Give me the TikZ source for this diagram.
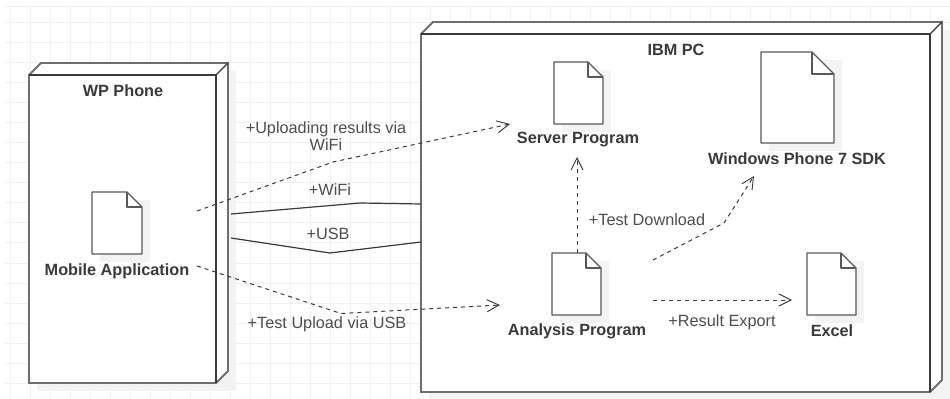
\documentclass[tikz,border=0pt]{standalone}
\usepackage{fontspec}
\setmainfont{Liberation Sans}
\usetikzlibrary{arrows.meta}
\definecolor{gridc}{HTML}{F0F0F0}
\definecolor{shadowc}{HTML}{F3F3F3}
\definecolor{ink}{HTML}{3A3A3A}
\definecolor{edgegrey}{HTML}{6E6E6E}
\tikzset{
  x=0.75pt,y=-0.75pt,
  gridline/.style={gridc,line width=0.75pt},
  docoutline/.style={draw=ink!85,line width=0.95pt,line join=round,fill=white},
  docshadow/.style={fill=shadowc,draw=none},
  boxfront/.style={fill=white,draw=none},
  boxedge/.style={draw=edgegrey,line width=1.35pt,line join=miter},
  boxdark/.style={draw=ink,line width=1.35pt},
  titletext/.style={font=\fontsize{12.2pt}{14pt}\selectfont\bfseries,text=ink,inner sep=0pt,anchor=center},
  linktext/.style={font=\fontsize{12.2pt}{12.2pt}\selectfont,text=ink!90,inner sep=0pt,anchor=center,align=center},
  solidlink/.style={draw=ink,line width=0.9pt,line join=round},
  deplink/.style={draw=ink,line width=0.75pt,dash pattern=on 3pt off 3pt,line join=round,
    -{Straight Barb[length=9pt,width=9pt,line width=0.7pt]}},
}
% #1 name, #2 left, #3 top, #4 right, #5 bottom, #6 fold
\newcommand{\docicon}[6]{%
  \fill[docshadow] (#2+8,#3+8) rectangle (#4+8,#5+8);
  \draw[docoutline] (#2,#3) -- (#4-#6,#3) -- (#4,#3+#6) -- (#4,#5) -- (#2,#5) -- cycle;
  \draw[docoutline,fill=none] (#4-#6,#3) -- (#4-#6,#3+#6) -- (#4,#3+#6);
  \coordinate (#1) at ({(#2+#4)/2},{(#3+#5)/2});
}
% #1 name, #2 left, #3 top, #4 right, #5 bottom
\newcommand{\boxnode}[5]{%
  \fill[shadowc] (#2+8,#3-4) rectangle (#4+20,#5+8);
  \fill[boxfront] (#2,#3) -- (#2+12,#3-12) -- (#4+12,#3-12) -- (#4+12,#5-12) -- (#4,#5) -- (#2,#5) -- cycle;
  \draw[boxedge] (#2,#3) -- (#2+12,#3-12) -- (#4+12,#3-12) -- (#4+12,#5-12) -- (#4,#5) -- (#2,#5) -- cycle;
  \draw[boxdark] (#2,#3) -- (#4,#3) -- (#4,#5);
  \draw[boxdark,line width=0.9pt] (#4,#3) -- (#4+12,#3-12);
  \coordinate (#1) at ({(#2+#4)/2},{(#3+#5)/2});
}
\begin{document}
\begin{tikzpicture}
\useasboundingbox (0,0) rectangle (950,399);
\fill[white] (0,0) rectangle (950,399);
% page grid
\foreach \gx in {10,30,...,950} \draw[gridline] (\gx,7) -- (\gx,399);
\foreach \gy in {7,23,43,...,399} \draw[gridline] (5,\gy) -- (950,\gy);

\boxnode{phone}{29}{75}{216}{383}
\boxnode{pc}{421}{34}{930}{392}

\node[titletext] (phonetitle) at (123,91) {WP Phone};
\node[titletext] (pctitle) at (676,50) {IBM PC};

\docicon{mobile}{92}{192}{142}{254}{15}
\docicon{server}{554}{62}{603}{124}{15}
\docicon{sdk}{761}{52}{834}{143}{22}
\docicon{analysis}{552}{253}{601}{315}{15}
\docicon{excel}{807}{253}{856}{315}{15}

\node[titletext] (mobilelabel) at (117,271) {Mobile Application};
\node[titletext] (serverlabel) at (578,140) {Server Program};
\node[titletext] (sdklabel) at (797,159) {Windows Phone 7 SDK};
\node[titletext] (analysislabel) at (577,331) {Analysis Program};
\node[titletext] (excellabel) at (832,331) {Excel};

% connector ends
\coordinate (upA) at (197,211);
\coordinate (upB) at (333,162);
\coordinate (upC) at (510,124);
\coordinate (wifiA) at (231,214);
\coordinate (wifiB) at (360,203);
\coordinate (wifiC) at (421,204);
\coordinate (usbA) at (231,238);
\coordinate (usbB) at (330,253);
\coordinate (usbC) at (421,242);
\coordinate (tuA) at (197,266);
\coordinate (tuB) at (341,313.5);
\coordinate (tuC) at (500,305);
\coordinate (tdA) at (577,253);
\coordinate (tdC) at (577,157);
\coordinate (sdA) at (653,260);
\coordinate (sdB) at (724,223);
\coordinate (sdC) at (754,176);
\coordinate (reA) at (653,300);
\coordinate (reC) at (792,300);

\draw[solidlink] (wifiA) -- (wifiB) -- (wifiC);
\draw[solidlink] (usbA) -- (usbB) -- (usbC);
\draw[deplink] (upA) -- (upB) -- (upC);
\draw[deplink] (tuA) -- (tuB) -- (tuC);
\draw[deplink] (tdA) -- (tdC);
\draw[deplink] (sdA) -- (sdB) -- (sdC);
\draw[deplink] (reA) -- (reC);

\node[linktext] (uptext) at (326,136) {+Uploading results via\\WiFi};
\node[linktext] (wifitext) at (330,190) {+WiFi};
\node[linktext] (usbtext) at (328,234) {+USB};
\node[linktext] (tutext) at (327,324) {+Test Upload via USB};
\node[linktext] (tdtext) at (647,220) {+Test Download};
\node[linktext] (retext) at (722,322) {+Result Export};
\end{tikzpicture}
\end{document}
